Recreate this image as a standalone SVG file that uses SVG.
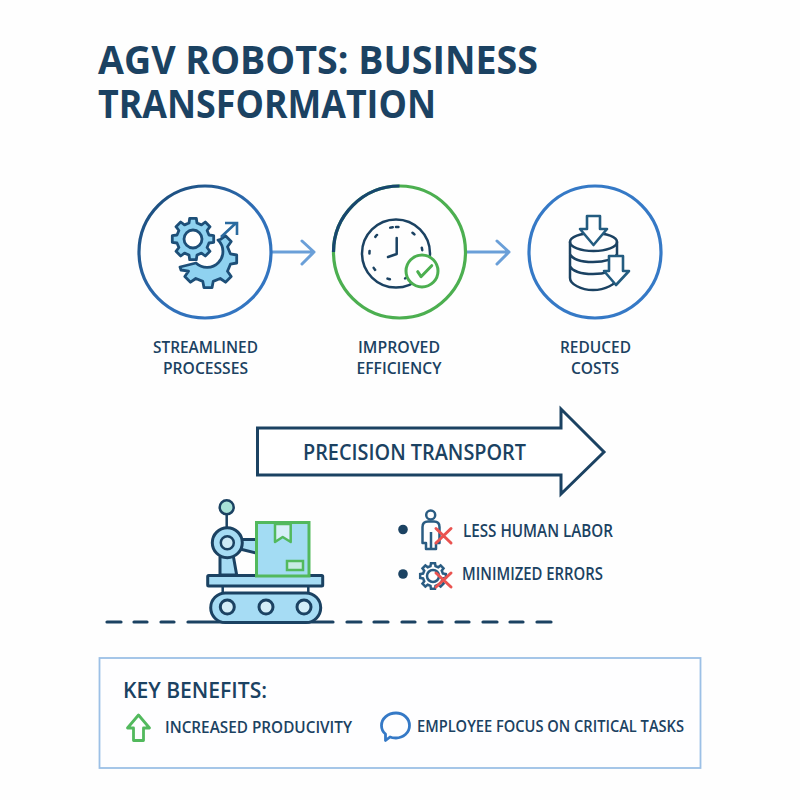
<svg xmlns="http://www.w3.org/2000/svg" width="800" height="800" viewBox="0 0 800 800">
<style>
text{font-family:"Open Sans","Noto Sans","Liberation Sans",sans-serif;fill:#1b4262;font-weight:600}
.lab{font-size:16.5px;text-anchor:middle}
.ln{fill:none;stroke:#1b4262;stroke-width:2.5;stroke-linecap:round;stroke-linejoin:round}
.lb{fill:#a6dcf4;stroke:#1b4262;stroke-width:3;stroke-linejoin:round}
.gear{fill:#8fd2f0;stroke:#1d4f78;stroke-width:2.8;stroke-linejoin:round}
.conn{fill:none;stroke:#6a9fd8;stroke-width:3;stroke-linecap:round;stroke-linejoin:round}
.red{fill:none;stroke:#ea5350;stroke-width:3;stroke-linecap:round}
</style>
<defs>
<linearGradient id="g1" x1="0" y1="0" x2="1" y2="1"><stop offset="0" stop-color="#17466f"/><stop offset=".55" stop-color="#2f6fb8"/><stop offset="1" stop-color="#3579c6"/></linearGradient>
<path id="cog" d="M209,235L213.7,235.7L213.7,242.3L209,243L207.1,247.5L210,251.3L205.3,256L201.5,253.1L197,255L196.3,259.7L189.7,259.7L189,255L184.5,253.1L180.7,256L176,251.3L178.9,247.5L177,243L172.3,242.3L172.3,235.7L177,235L178.9,230.5L176,226.7L180.7,222L184.5,224.9L189,223L189.7,218.3L196.3,218.3L197,223L201.5,224.9L205.3,222L210,226.7L207.1,230.5Z"/>
</defs>
<rect width="800" height="800" fill="#fefefe"/>
<g id="title"><text x="98" y="74" font-size="40" style="font-weight:700" textLength="440" lengthAdjust="spacingAndGlyphs">AGV ROBOTS: BUSINESS</text><text x="98" y="118" font-size="40" style="font-weight:700" textLength="338" lengthAdjust="spacingAndGlyphs">TRANSFORMATION</text></g>
<g id="connectors">
<path class="conn" d="M272,252H314M302,241L314,252L302,264"/>
<path class="conn" d="M466,252H509M497,241L509,252L497,264"/>
</g>
<g id="node-streamlined">
<circle cx="205" cy="252" r="66" fill="none" stroke="url(#g1)" stroke-width="3.2"/>
<path class="gear" d="M218,240L220.2,239.5L225.5,235.8L231.2,241.5L227.5,246.8L230.4,253.8L236.7,255L236.7,263L230.4,264.2L227.5,271.2L231.2,276.5L225.5,282.2L220.2,278.5L213.2,281.4L212,287.7L204,287.7L202.8,281.4L195.8,278.5L190.5,282.2L184.8,276.5L188.5,271.2L181,270L180,267L196,263A15,15 0 1 0 218,240Z"/>
<use href="#cog" class="gear"/>
<circle cx="193" cy="239" r="9" fill="#fff" stroke="#1d4f78" stroke-width="2.8"/>
<path d="M221,237L236,223M225,223H237V235" fill="none" stroke="#2a6a9f" stroke-width="2.6"/>
<text class="lab" x="205.500" y="353" textLength="105" lengthAdjust="spacingAndGlyphs">STREAMLINED</text><text class="lab" x="205.500" y="374" textLength="85" lengthAdjust="spacingAndGlyphs">PROCESSES</text>
</g>
<g id="node-efficiency">
<circle cx="399.500" cy="252" r="66" fill="none" stroke="#4caf50" stroke-width="3.2"/>
<path d="M333.500,252A66,66 0 0 1 399.500,186" fill="none" stroke="#17466f" stroke-width="3.2"/>
<circle class="ln" cx="396" cy="253.500" r="34"/>
<path class="ln" d="M396.700,238V254L388,257"/>
<path class="ln" stroke-dasharray="2.500 15.300" d="M396,227A26.500,26.500 0 1 1 395.900,227"/>
<circle cx="422" cy="271" r="16" fill="#fff" stroke="#4caf50" stroke-width="3"/>
<path d="M417.700,271.700L421,276.700L431.700,265.700" fill="none" stroke="#4caf50" stroke-width="3" stroke-linecap="round" stroke-linejoin="round"/>
<text class="lab" x="399" y="353" textLength="82" lengthAdjust="spacingAndGlyphs">IMPROVED</text><text class="lab" x="399" y="374" textLength="85" lengthAdjust="spacingAndGlyphs">EFFICIENCY</text>
</g>
<g id="node-costs">
<circle cx="595" cy="252" r="66" fill="none" stroke="#3579c6" stroke-width="3.2"/>
<path class="ln" d="M570,242V278C570,284 581,290 593,290C605,290 617,284 617,278V242M570,254C572,259 581,262 593,262C605,262 615,259 617,254M570,266C572,271 581,274 593,274C605,274 615,271 617,266"/>
<ellipse class="ln" cx="593.500" cy="242" rx="23.500" ry="9"/>
<path d="M587,216H600V229H607L593.500,245L580,229H587Z" fill="#fff" stroke="#235c80" stroke-width="2.600" stroke-linejoin="round"/>
<path d="M609,256H623V271H629L616,285L604,271H609Z" fill="#fff" stroke="#235c80" stroke-width="2.600" stroke-linejoin="round"/>
<text class="lab" x="595.500" y="353" textLength="71" lengthAdjust="spacingAndGlyphs">REDUCED</text><text class="lab" x="595" y="374" textLength="48" lengthAdjust="spacingAndGlyphs">COSTS</text>
</g>
<g id="node-precision">
<path d="M257.500,428H561V409L604,452L561,494V475H257.500Z" fill="#fff" stroke="#1b4262" stroke-width="3"/>
<text x="303" y="460" font-size="21.500" textLength="223" lengthAdjust="spacingAndGlyphs">PRECISION TRANSPORT</text>
</g>
<g id="node-robot">
<path d="M107,622H121M134,622H147M161,622H174M347,622H361M374,622H388M402,622H415M429,622H442M456,622H469M483,622H497M510,622H523M537,622H551" stroke="#1b4262" stroke-width="3.200" fill="none" stroke-linecap="round"/>
<path d="M188,622H333" stroke="#1b4262" stroke-width="3.200" stroke-linecap="round"/>
<path class="ln" d="M226.700,514V528M222.700,586V593M308.300,586V593"/>
<circle cx="226.700" cy="507.300" r="7" fill="#a8e2d8" stroke="#1b4262" stroke-width="2.500"/>
<path class="lb" d="M220,557V575H236.700L233.300,556Z"/>
<path class="lb" d="M240,539.500H258V553.500L240,549Z"/>
<circle class="lb" cx="227.300" cy="542.700" r="15"/>
<circle cx="227.300" cy="542.700" r="6.500" fill="#cdeaf6" stroke="#1b4262" stroke-width="2.500"/>
<rect class="lb" x="207.700" y="575.500" width="115" height="10.500" rx="1"/>
<rect x="256.500" y="522.500" width="52.500" height="53.500" fill="#a3dcf3" stroke="#52b95d" stroke-width="3"/>
<path d="M275,524V542L282.700,537L290.700,542V524Z" fill="#d8eff8" stroke="#52b95d" stroke-width="2.500" stroke-linejoin="round"/>
<rect x="287" y="561" width="16" height="9" fill="#c8ebe5" stroke="#52b95d" stroke-width="2.500"/>
<rect class="lb" x="210.700" y="593" width="110" height="29.500" rx="14.700"/>
<circle class="lb" cx="227.300" cy="607" r="7" style="fill:#d4eef8"/>
<circle class="lb" cx="266" cy="607" r="7" style="fill:#d4eef8"/>
<circle class="lb" cx="304" cy="607" r="7" style="fill:#d4eef8"/>
</g>
<g id="node-labor">
<circle cx="403" cy="529.500" r="4.800" fill="#1b4262"/>
<circle cx="430.700" cy="515" r="4.500" fill="none" stroke="#2a5c82" stroke-width="2.500"/>
<path d="M422.500,543V527C422.500,523 425,521.500 428,521.500H434C437,521.500 439.500,523 439.500,527V543H436V549H426V543ZM431,532V549" fill="none" stroke="#2a5c82" stroke-width="2.500" stroke-linejoin="round"/>
<path class="red" d="M436,528.500L451,543M451,528.500L436,543"/>
<text x="463" y="537" font-size="17.500" textLength="150" lengthAdjust="spacingAndGlyphs">LESS HUMAN LABOR</text>
</g>
<g id="node-errors">
<circle cx="403" cy="574" r="4.800" fill="#1b4262"/>
<use href="#cog" transform="translate(433,576) scale(.62) translate(-193,-239)" fill="none" stroke="#2a5c82" stroke-width="4"/>
<circle cx="433" cy="576" r="6" fill="none" stroke="#2a5c82" stroke-width="2.500"/>
<path class="red" d="M436,573L451,587M451,573L436,587"/>
<text x="462" y="580" font-size="17.500" textLength="141" lengthAdjust="spacingAndGlyphs">MINIMIZED ERRORS</text>
</g>
<g id="node-benefits">
<rect x="99.500" y="658" width="601" height="110" fill="#fefeff" stroke="#9cc0e6" stroke-width="1.800"/>
<text x="123" y="698" font-size="21" textLength="144" lengthAdjust="spacingAndGlyphs">KEY BENEFITS:</text>
<path d="M138.500,715L149.500,728H143.500V740.500H133.500V728H127.500Z" fill="none" stroke="#52b95d" stroke-width="2.800" stroke-linejoin="round"/>
<text x="165" y="733" font-size="16.500" textLength="187" lengthAdjust="spacingAndGlyphs">INCREASED PRODUCIVITY</text>
<path d="M396,713C403.500,713 409.500,718.500 409.500,725.500C409.500,733 403,738 396,738C394,738 392,738 390,737L385.500,740.500L385.500,734C383,732 381.500,729 381.500,725.500C381.500,718.500 388,713 396,713Z" fill="none" stroke="#3579c6" stroke-width="2.800" stroke-linejoin="round"/>
<text x="417" y="732" font-size="16.500" textLength="267" lengthAdjust="spacingAndGlyphs">EMPLOYEE FOCUS ON CRITICAL TASKS</text>
</g>
</svg>
